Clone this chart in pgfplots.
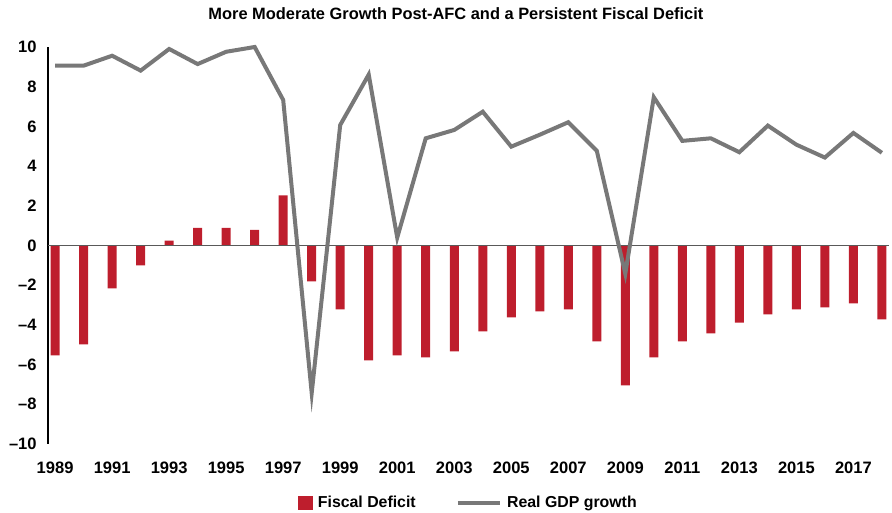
\documentclass[border=0pt]{standalone}
\usepackage{pgfplots}
\pgfplotsset{compat=1.18}
\usepackage{fontspec}
\setmainfont{Liberation Sans}
\definecolor{defred}{HTML}{BE1E2D}
\definecolor{gdpgrey}{HTML}{787878}
% sizes below: 1px of the 892x513 reference = 0.75pt
\begin{document}
\begin{tikzpicture}
\begin{axis}[
  scale only axis,
  width=630.75pt, height=297.75pt,
  xmin=1988.75, xmax=2018.25,
  ymin=-10, ymax=10,
  xtick={1989,1991,...,2017},
  ytick={-10,-8,...,10},
  yticklabels={\textendash10,\textendash8,\textendash6,\textendash4,\textendash2,0,2,4,6,8,10},
  major tick length=0pt,
  axis line style={draw=none},
  /pgf/number format/set thousands separator={},
  /pgf/number format/assume math mode=true,
  tick label style={font=\bfseries\fontsize{12.4pt}{14pt}\selectfont},
  xticklabel style={yshift=-10.3pt},
  yticklabel style={xshift=-5pt},
  legend style={at={(0.50,-0.1486)}, anchor=center, draw=none, legend columns=2,
    font=\bfseries\fontsize{11.9pt}{14pt}\selectfont, inner sep=0pt,
    /tikz/every odd column/.append style={column sep=2pt},
    /tikz/every even column/.append style={column sep=28pt}},
  clip=false,
]
\addplot[ybar, bar width=6.75pt, fill=defred, draw=none,
  legend image code/.code={\fill[defred] (0pt,-5.6pt) rectangle (11.2pt,5.6pt);}]
  coordinates {
  (1989,-5.54) (1990,-4.98) (1991,-2.16) (1992,-1.00) (1993,0.24)
  (1994,0.89) (1995,0.89) (1996,0.79) (1997,2.52) (1998,-1.81)
  (1999,-3.22) (2000,-5.79) (2001,-5.54) (2002,-5.64) (2003,-5.33)
  (2004,-4.33) (2005,-3.62) (2006,-3.32) (2007,-3.22) (2008,-4.83)
  (2009,-7.05) (2010,-5.64) (2011,-4.83) (2012,-4.43) (2013,-3.88)
  (2014,-3.47) (2015,-3.22) (2016,-3.12) (2017,-2.92) (2018,-3.72)
};
\addlegendentry{Fiscal Deficit}
\draw[black, line width=0.8pt] (rel axis cs:0,0) -- (rel axis cs:0,1);
\draw[black!65, line width=1.1pt] (axis cs:1988.75,0) -- (axis cs:2018.25,0);
\addplot[gdpgrey, line width=3pt, mark=none,
  legend image code/.code={\draw[gdpgrey, line width=3pt] (0pt,0pt) -- (31.5pt,0pt);}]
  coordinates {
  (1989,9.06) (1990,9.06) (1991,9.56) (1992,8.81) (1993,9.90)
  (1994,9.14) (1995,9.76) (1996,10.0) (1997,7.33) (1998,-7.43)
  (1999,6.07) (2000,8.61) (2001,0.40) (2002,5.40) (2003,5.82)
  (2004,6.74) (2005,4.98) (2006,5.58) (2007,6.21) (2008,4.77)
  (2009,-1.42) (2010,7.47) (2011,5.27) (2012,5.40) (2013,4.70)
  (2014,6.04) (2015,5.08) (2016,4.43) (2017,5.67) (2018,4.67)
};
\addlegendentry{Real GDP growth}
\node[anchor=base, yshift=20.25pt, font=\bfseries\fontsize{12.3pt}{14pt}\selectfont]
  at (rel axis cs:0.485,1) {More Moderate Growth Post-AFC and a Persistent Fiscal Deficit};
\end{axis}
\pgfresetboundingbox
\path (-36pt,-51.75pt) rectangle (633pt,333pt);
\end{tikzpicture}
\end{document}
